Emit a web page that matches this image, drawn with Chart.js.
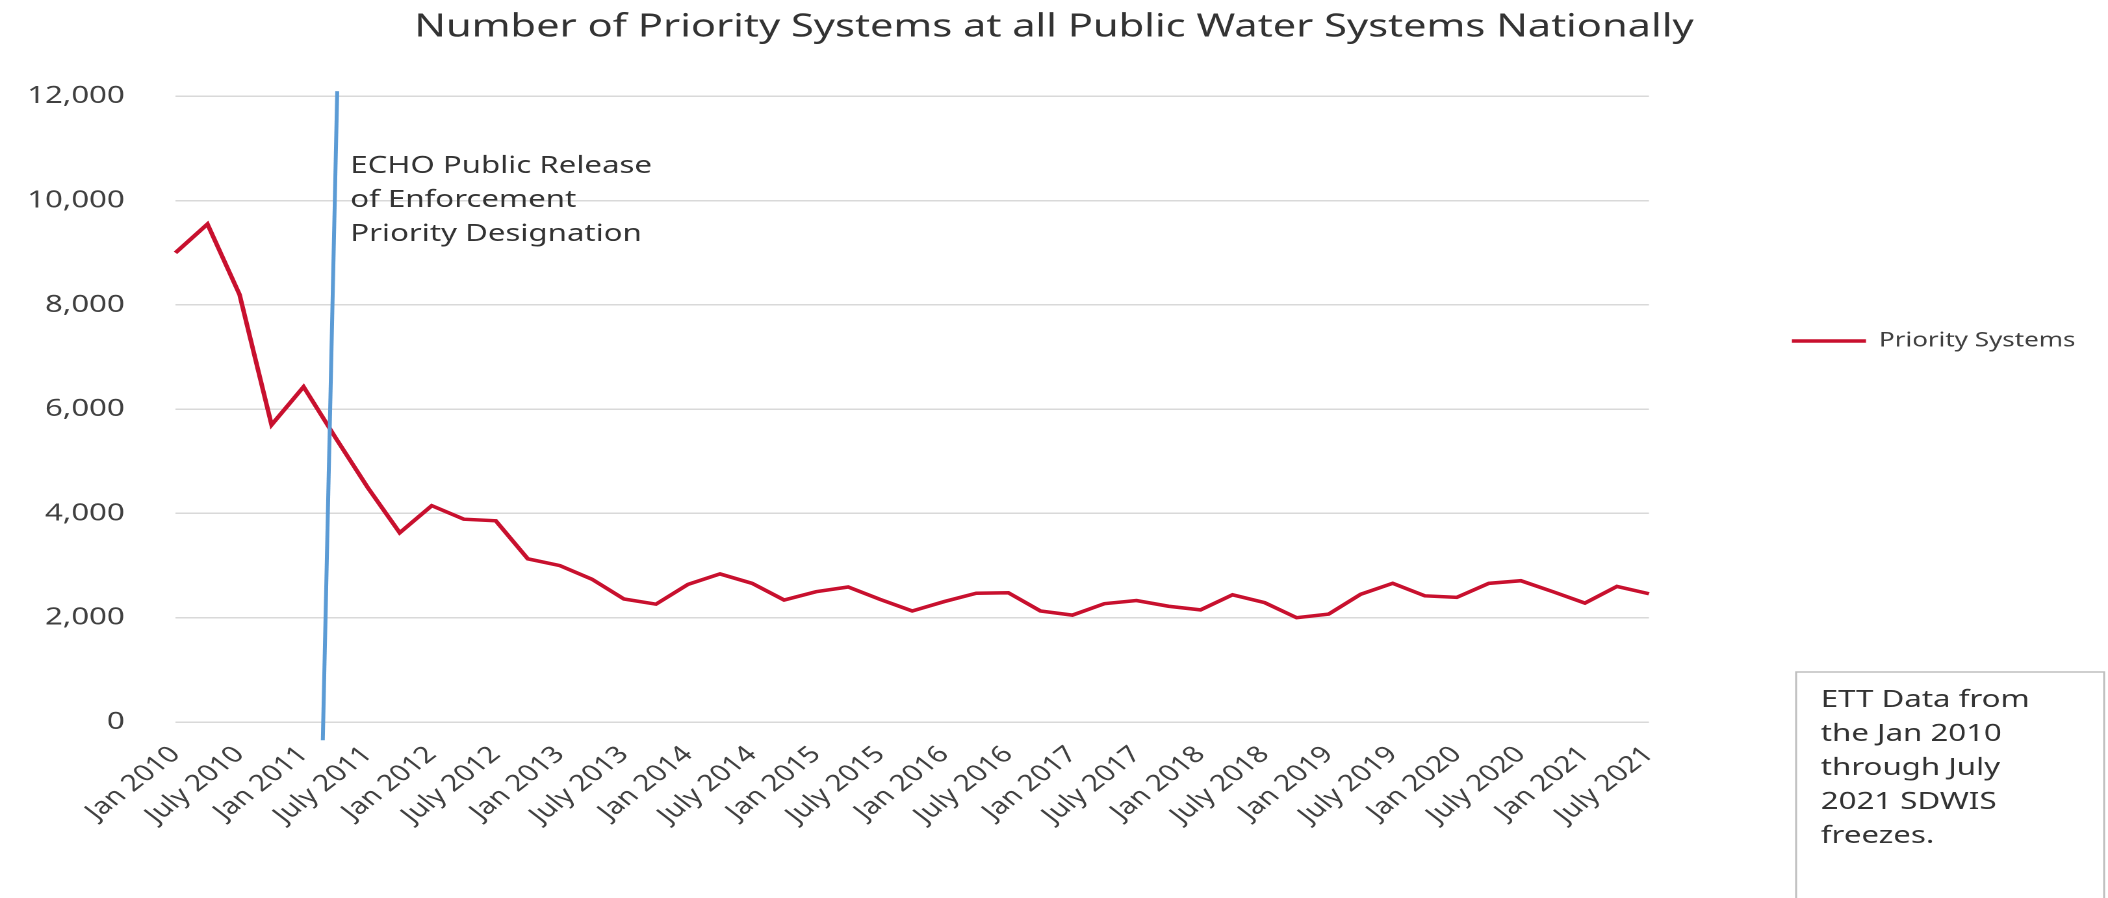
<!DOCTYPE html>
<html>
<head>
<meta charset="utf-8">
<title>Number of Priority Systems at all Public Water Systems Nationally</title>
<script src="https://cdn.jsdelivr.net/npm/chart.js@4/dist/chart.umd.min.js"></script>
<style>
  html, body { margin: 0; padding: 0; background: #ffffff; }
  #myChart { display: block; }
</style>
</head>
<body>
<!-- the source picture is stretched sideways, so the canvas is too -->
<canvas id="myChart" width="1622" height="898" style="width:2108px;height:898px"></canvas>
<script>
const ctx = document.getElementById("myChart");

// quarterly SDWIS freezes, Jan 2010 .. July 2021
const quarterLabels = [
  "Jan 2010", "Apr 2010", "July 2010", "Oct 2010",
  "Jan 2011", "Apr 2011", "July 2011", "Oct 2011",
  "Jan 2012", "Apr 2012", "July 2012", "Oct 2012",
  "Jan 2013", "Apr 2013", "July 2013", "Oct 2013",
  "Jan 2014", "Apr 2014", "July 2014", "Oct 2014",
  "Jan 2015", "Apr 2015", "July 2015", "Oct 2015",
  "Jan 2016", "Apr 2016", "July 2016", "Oct 2016",
  "Jan 2017", "Apr 2017", "July 2017", "Oct 2017",
  "Jan 2018", "Apr 2018", "July 2018", "Oct 2018",
  "Jan 2019", "Apr 2019", "July 2019", "Oct 2019",
  "Jan 2020", "Apr 2020", "July 2020", "Oct 2020",
  "Jan 2021", "Apr 2021", "July 2021"
];

const prioritySystems = [
  9000, 9550, 8200, 5700,
  6430, 5450, 4500, 3630,
  4150, 3890, 3860, 3130,
  3000, 2740, 2360, 2260,
  2640, 2840, 2660, 2340,
  2500, 2590, 2350, 2130,
  2310, 2470, 2480, 2130,
  2050, 2270, 2330, 2220,
  2150, 2440, 2290, 2000,
  2070, 2450, 2660, 2420,
  2390, 2660, 2710, 2500,
  2280, 2600, 2460
];

const yTicks = [0, 2000, 4000, 6000, 8000, 10000, 12000];

// only every other quarter gets a label on the axis
const labelEvery = 2;

// ECHO release marker, in axis units (category index, value)
const releaseTop = [5.05, 12100];
const releaseBottom = [4.6, -350];
const releaseText = ["ECHO Public Release", "of Enforcement", "Priority Designation"];

const noteText = ["ETT Data from", "the Jan 2010", "through July", "2021 SDWIS", "freezes."];

const FONT = "'Noto Sans', sans-serif";
const TEXT_COLOR = "#404040";

const notesPlugin = {
  id: "notes",
  afterDatasetsDraw(chart) {
    const c = chart.ctx;
    const x = chart.scales.x;
    const y = chart.scales.y;

    const x1 = x.getPixelForValue(releaseTop[0]);
    const y1 = y.getPixelForValue(releaseTop[1]);
    const x2 = x.getPixelForValue(releaseBottom[0]);
    const y2 = y.getPixelForValue(releaseBottom[1]);

    c.save();
    c.strokeStyle = "#5b9bd5";
    c.lineWidth = 3;
    c.beginPath();
    c.moveTo(x1, y1);
    c.lineTo(x2, y2);
    c.stroke();

    c.fillStyle = "#333333";
    c.font = "24px " + FONT;
    c.textAlign = "left";
    c.textBaseline = "alphabetic";
    for (let i = 0; i < releaseText.length; i++) {
      c.fillText(releaseText[i], x1 + 10, 173 + i * 34);
    }
    c.restore();
  },
  afterDraw(chart) {
    const c = chart.ctx;
    c.save();
    // text box in the lower right corner
    c.fillStyle = "#ffffff";
    c.fillRect(1382, 672, 237, 240);
    c.strokeStyle = "#bfbfbf";
    c.lineWidth = 1.5;
    c.strokeRect(1382, 672, 237, 240);

    c.fillStyle = "#333333";
    c.font = "24px " + FONT;
    c.textAlign = "left";
    c.textBaseline = "alphabetic";
    for (let i = 0; i < noteText.length; i++) {
      c.fillText(noteText[i], 1401, 707 + i * 34);
    }
    c.restore();
  }
};

function createChart() {
  return new Chart(ctx, {
    type: "line",
    data: {
      labels: quarterLabels,
      datasets: [
        {
          label: "Priority Systems",
          data: prioritySystems,
          borderColor: "#c8102e",
          backgroundColor: "#c8102e",
          borderWidth: 3.5,
          pointRadius: 0,
          pointStyle: "line",
          fill: false,
          tension: 0,
        },
      ],
    },
    options: {
      responsive: false,
      devicePixelRatio: 2,
      animation: false,
      events: [],
      layout: {
        padding: { left: 15, right: 15, top: 0, bottom: 0 },
      },
      plugins: {
        title: {
          display: true,
          text: "Number of Priority Systems at all Public Water Systems Nationally",
          color: "#333333",
          font: { family: FONT, size: 32, weight: "normal" },
          padding: { top: 8, bottom: 50 },
        },
        legend: {
          display: true,
          position: "right",
          align: "start",
          // empty legend title, only used to push the entry down
          title: {
            display: true,
            text: "",
            font: { family: FONT, size: 10 },
            padding: { top: 0, bottom: 209 },
          },
          labels: {
            usePointStyle: true,
            pointStyle: "line",
            pointStyleWidth: 57,
            padding: 110,
            color: TEXT_COLOR,
            font: { family: FONT, size: 20 },
          },
        },
        tooltip: { enabled: false },
      },
      scales: {
        x: {
          type: "category",
          offset: false,
          grid: { display: false, drawTicks: false },
          border: { display: false },
          afterFit: (scale) => { scale.height = 176; },
          ticks: {
            autoSkip: false,
            minRotation: 45,
            maxRotation: 45,
            padding: 19,
            color: TEXT_COLOR,
            font: { family: FONT, size: 23 },
            callback: function (value, index) {
              return index % labelEvery === 0 ? quarterLabels[index] : "";
            },
          },
        },
        y: {
          min: yTicks[0],
          max: yTicks[yTicks.length - 1],
          afterBuildTicks: (scale) => {
            scale.ticks = yTicks.map((v) => ({ value: v }));
          },
          afterFit: (scale) => { scale.width = 120; },
          grid: { color: "#d9d9d9", lineWidth: 1.5, drawTicks: false },
          border: { display: false },
          ticks: {
            padding: 39,
            color: TEXT_COLOR,
            font: { family: FONT, size: 24 },
            callback: (value) => value.toLocaleString("en-US"),
          },
        },
      },
    },
    plugins: [notesPlugin],
  });
}

let graphic = createChart();
</script>
</body>
</html>
